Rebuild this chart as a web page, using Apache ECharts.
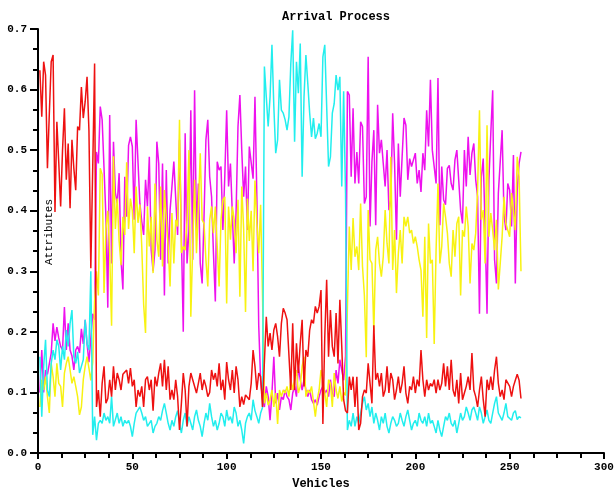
<!DOCTYPE html>
<html lang="en">
<head>
    <meta charset="UTF-8">
    <title>Arrival Process</title>
</head>
<style>
    html, body { margin: 0; padding: 0; background: #fff; }
    #main { width: 614px; height: 490px; }
</style>
<body>
<div id="main"></div>
<script type="text/javascript" src="https://cdn.jsdelivr.net/npm/echarts@6/dist/echarts.min.js"></script>
<script>
    // values, one per vehicle (1..256)
    var redVals = [
        0.632, 0.555, 0.646, 0.624, 0.47, 0.56, 0.646, 0.657, 0.398, 0.547,
        0.48, 0.407, 0.50, 0.569, 0.451, 0.511, 0.404, 0.517, 0.47, 0.434,
        0.539, 0.533, 0.604, 0.553, 0.58, 0.621, 0.533, 0.305, 0.47, 0.643,
        0.076, 0.104, 0.06, 0.115, 0.143, 0.082, 0.09, 0.121, 0.093, 0.143,
        0.104, 0.132, 0.121, 0.104, 0.13, 0.132, 0.137, 0.115, 0.14, 0.110,
        0.121, 0.076, 0.104, 0.093, 0.110, 0.076, 0.121, 0.126, 0.104, 0.121,
        0.07, 0.126, 0.110, 0.132, 0.148, 0.110, 0.154, 0.104, 0.143, 0.088,
        0.104, 0.088, 0.121, 0.093, 0.038, 0.082, 0.132, 0.104, 0.044, 0.110,
        0.132, 0.121, 0.12, 0.099, 0.115, 0.132, 0.104, 0.121, 0.110, 0.093,
        0.10, 0.137, 0.121, 0.132, 0.110, 0.148, 0.104, 0.121, 0.088, 0.15,
        0.121, 0.104, 0.137, 0.099, 0.143, 0.121, 0.076, 0.093, 0.08, 0.096,
        0.093, 0.088, 0.115, 0.170, 0.143, 0.104, 0.132, 0.126, 0.076,
        0.076, 0.225, 0.176, 0.198, 0.170, 0.203, 0.214, 0.192, 0.159, 0.214,
        0.239, 0.231, 0.220, 0.220, 0.104, 0.214, 0.104, 0.181, 0.132, 0.181,
        0.220, 0.110, 0.170, 0.159, 0.203, 0.220, 0.214, 0.242, 0.231, 0.242,
        0.269, 0.048, 0.192, 0.286, 0.159, 0.236, 0.176, 0.159, 0.231, 0.148,
        0.253, 0.176, 0.088, 0.07,
        0.066, 0.126, 0.104, 0.126, 0.076, 0.126, 0.038, 0.049, 0.093, 0.104,
        0.099, 0.148, 0.115, 0.082, 0.211, 0.121, 0.132, 0.110, 0.132, 0.093,
        0.104, 0.143, 0.099, 0.132, 0.121, 0.088, 0.104, 0.126, 0.099, 0.115,
        0.143, 0.099, 0.082, 0.110, 0.104, 0.126, 0.099, 0.121, 0.110, 0.170,
        0.121, 0.093, 0.121, 0.104, 0.115, 0.110, 0.121, 0.099, 0.121, 0.104,
        0.115, 0.148, 0.110, 0.143, 0.104, 0.154, 0.104, 0.093, 0.121, 0.082,
        0.132, 0.088, 0.099, 0.110, 0.126, 0.104, 0.165, 0.104, 0.093, 0.076,
        0.104, 0.126, 0.088, 0.060, 0.121, 0.104, 0.126, 0.104, 0.137, 0.159,
        0.115, 0.093, 0.104, 0.088, 0.121, 0.121, 0.110, 0.093, 0.11, 0.12,
        0.13, 0.12, 0.09
    ];
    var magentaVals = [
        0.10, 0.17, 0.10, 0.137, 0.13, 0.13, 0.165, 0.214, 0.185, 0.208,
        0.19, 0.176, 0.17, 0.241, 0.17, 0.214, 0.17, 0.16, 0.137, 0.17,
        0.176, 0.165, 0.205, 0.18, 0.22, 0.18, 0.15, 0.19, 0.23, 0.22,
        0.497, 0.478, 0.572, 0.550, 0.549, 0.390, 0.24, 0.558, 0.313, 0.514,
        0.43, 0.412, 0.462, 0.319, 0.27, 0.456, 0.390, 0.508, 0.522, 0.506,
        0.385, 0.550, 0.553, 0.412, 0.382, 0.36, 0.451, 0.407, 0.489, 0.335,
        0.30, 0.335, 0.514, 0.478, 0.319, 0.478, 0.26, 0.467, 0.313, 0.401,
        0.44, 0.481, 0.42, 0.36, 0.517, 0.517, 0.20, 0.528, 0.313, 0.368,
        0.566, 0.319, 0.599, 0.368, 0.445, 0.313, 0.28, 0.390, 0.517, 0.550,
        0.456, 0.423, 0.33, 0.25, 0.481, 0.467, 0.473, 0.368, 0.456, 0.566,
        0.44, 0.478, 0.475, 0.313, 0.398, 0.539, 0.591, 0.50, 0.423, 0.473,
        0.368, 0.506, 0.506, 0.453, 0.588, 0.423, 0.21, 0.12, 0.09,
        0.076, 0.110, 0.093, 0.054, 0.099, 0.159, 0.082, 0.099, 0.071, 0.093,
        0.088, 0.104, 0.093, 0.088, 0.071, 0.099, 0.110, 0.093, 0.143, 0.121,
        0.104, 0.121, 0.104, 0.093, 0.104, 0.088, 0.082, 0.088, 0.079, 0.093,
        0.104, 0.110, 0.099, 0.104, 0.093, 0.121, 0.099, 0.093, 0.137, 0.115,
        0.154, 0.137, 0.12, 0.16,
        0.597, 0.591, 0.456, 0.569, 0.445, 0.497, 0.445, 0.547, 0.539, 0.412,
        0.423, 0.654, 0.374, 0.481, 0.533, 0.376, 0.575, 0.495, 0.517, 0.478,
        0.44, 0.50, 0.401, 0.418, 0.561, 0.478, 0.352, 0.511, 0.423, 0.489,
        0.553, 0.541, 0.451, 0.486, 0.473, 0.484, 0.495, 0.445, 0.467, 0.431,
        0.495, 0.467, 0.566, 0.506, 0.616, 0.500, 0.500, 0.445, 0.619, 0.376,
        0.473, 0.418, 0.41, 0.47, 0.475, 0.445, 0.434, 0.484, 0.500, 0.500,
        0.401, 0.379, 0.500, 0.440, 0.522, 0.459, 0.495, 0.511, 0.451, 0.423,
        0.23, 0.456, 0.486, 0.368, 0.23, 0.451, 0.528, 0.599, 0.319, 0.28,
        0.429, 0.481, 0.533, 0.393, 0.368, 0.445, 0.434, 0.374, 0.492, 0.28,
        0.434, 0.478, 0.497
    ];
    var yellowVals = [
        0.076, 0.121, 0.104, 0.126, 0.093, 0.066, 0.148, 0.126, 0.093, 0.148,
        0.115, 0.110, 0.076, 0.132, 0.148, 0.159, 0.137, 0.115, 0.126, 0.110,
        0.093, 0.063, 0.076, 0.121, 0.143, 0.159, 0.14, 0.12, 0.15, 0.25,
        0.30, 0.26, 0.47, 0.46, 0.264, 0.37, 0.40, 0.33, 0.21, 0.49,
        0.37, 0.42, 0.35, 0.31, 0.39, 0.36, 0.48, 0.37, 0.42, 0.40,
        0.33, 0.44, 0.38, 0.41, 0.341, 0.245, 0.198, 0.407, 0.341, 0.390,
        0.297, 0.445, 0.352, 0.324, 0.440, 0.308, 0.434, 0.434, 0.341, 0.275,
        0.396, 0.313, 0.385, 0.374, 0.550, 0.330, 0.341, 0.335, 0.385, 0.500,
        0.225, 0.341, 0.451, 0.330, 0.407, 0.495, 0.385, 0.379, 0.319, 0.275,
        0.385, 0.407, 0.363, 0.407, 0.407, 0.275, 0.385, 0.418, 0.423, 0.247,
        0.407, 0.352, 0.407, 0.385, 0.330, 0.418, 0.258, 0.440, 0.37, 0.233,
        0.42, 0.35, 0.40, 0.30, 0.45, 0.38, 0.33, 0.41, 0.26,
        0.082, 0.099, 0.079, 0.088, 0.104, 0.076, 0.099, 0.048, 0.104, 0.093,
        0.104, 0.099, 0.110, 0.093, 0.121, 0.104, 0.121, 0.137, 0.099, 0.110,
        0.143, 0.159, 0.093, 0.104, 0.099, 0.110, 0.110, 0.060, 0.088, 0.104,
        0.137, 0.121, 0.099, 0.076, 0.121, 0.115, 0.076, 0.132, 0.104, 0.090,
        0.110, 0.085, 0.100, 0.095,
        0.24, 0.374, 0.302, 0.388, 0.324, 0.341, 0.302, 0.412, 0.308, 0.26,
        0.158, 0.401, 0.319, 0.313, 0.20, 0.335, 0.357, 0.313, 0.291, 0.324,
        0.401, 0.346, 0.313, 0.489, 0.302, 0.368, 0.264, 0.330, 0.368, 0.313,
        0.390, 0.374, 0.390, 0.363, 0.368, 0.346, 0.357, 0.341, 0.319, 0.302,
        0.225, 0.357, 0.19, 0.379, 0.313, 0.319, 0.18, 0.335, 0.445, 0.313,
        0.341, 0.412, 0.390, 0.363, 0.313, 0.291, 0.368, 0.324, 0.379, 0.390,
        0.26, 0.368, 0.357, 0.407, 0.374, 0.28, 0.346, 0.335, 0.363, 0.434,
        0.566, 0.385, 0.401, 0.313, 0.541, 0.357, 0.396, 0.368, 0.335, 0.385,
        0.27, 0.313, 0.357, 0.423, 0.379, 0.368, 0.357, 0.429, 0.401, 0.368,
        0.489, 0.456, 0.30
    ];
    var cyanVals = [
        0.159, 0.06, 0.143, 0.187, 0.104, 0.093, 0.148, 0.170, 0.154, 0.187,
        0.176, 0.137, 0.176, 0.154, 0.203, 0.176, 0.214, 0.236, 0.159, 0.148,
        0.167, 0.132, 0.143, 0.154, 0.220, 0.18, 0.17, 0.30, 0.03, 0.06,
        0.021, 0.049, 0.054, 0.049, 0.066, 0.054, 0.060, 0.049, 0.093, 0.044,
        0.044, 0.066, 0.049, 0.060, 0.044, 0.054, 0.049, 0.054, 0.044, 0.027,
        0.049, 0.066, 0.066, 0.076, 0.066, 0.054, 0.060, 0.044, 0.049, 0.054,
        0.033, 0.044, 0.049, 0.060, 0.054, 0.070, 0.082, 0.066, 0.049, 0.038,
        0.054, 0.044, 0.060, 0.070, 0.049, 0.033, 0.054, 0.066, 0.044, 0.060,
        0.049, 0.038, 0.060, 0.071, 0.054, 0.044, 0.027, 0.049, 0.066, 0.054,
        0.082, 0.060, 0.044, 0.054, 0.038, 0.049, 0.066, 0.060, 0.044, 0.071,
        0.054, 0.060, 0.049, 0.076, 0.066, 0.044, 0.054, 0.038, 0.016, 0.049,
        0.060, 0.066, 0.054, 0.088, 0.070, 0.060, 0.049, 0.066, 0.075,
        0.638, 0.588, 0.539, 0.588, 0.674, 0.572, 0.495, 0.517, 0.616, 0.566,
        0.561, 0.550, 0.533, 0.555, 0.643, 0.698, 0.514, 0.646, 0.594, 0.676,
        0.456, 0.588, 0.657, 0.610, 0.561, 0.522, 0.553, 0.519, 0.528, 0.544,
        0.522, 0.654, 0.674, 0.671, 0.473, 0.489, 0.561, 0.577, 0.624, 0.599,
        0.621, 0.440, 0.597, 0.43,
        0.038, 0.054, 0.044, 0.066, 0.044, 0.060, 0.049, 0.066, 0.082, 0.093,
        0.071, 0.082, 0.060, 0.076, 0.049, 0.066, 0.054, 0.038, 0.060, 0.049,
        0.066, 0.044, 0.033, 0.049, 0.060, 0.054, 0.044, 0.049, 0.066, 0.054,
        0.044, 0.060, 0.071, 0.054, 0.038, 0.049, 0.054, 0.044, 0.066, 0.054,
        0.049, 0.060, 0.044, 0.066, 0.049, 0.054, 0.044, 0.033, 0.054, 0.038,
        0.027, 0.044, 0.060, 0.054, 0.066, 0.049, 0.044, 0.054, 0.033, 0.049,
        0.066, 0.054, 0.060, 0.076, 0.066, 0.054, 0.071, 0.076, 0.066, 0.054,
        0.076, 0.066, 0.049, 0.060, 0.071, 0.054, 0.049, 0.066, 0.082, 0.093,
        0.066, 0.060, 0.054, 0.066, 0.082, 0.060, 0.060, 0.054, 0.066, 0.070,
        0.055, 0.060, 0.058
    ];
    var xTicks = [0, 50, 100, 150, 200, 250, 300];
    var yTicks = [0.0, 0.1, 0.2, 0.3, 0.4, 0.5, 0.6, 0.7];

    var myChart = echarts.init(document.getElementById('main'));
    var monoFont = '"Liberation Mono", "DejaVu Sans Mono", monospace';

    function toPoints(vals) {
        // vehicle number starts at 1
        return vals.map(function (v, i) { return [i + 1, v]; });
    }

    function lineSeries(name, vals, color) {
        return {
            name: name,
            type: 'line',
            data: toPoints(vals),
            showSymbol: false,
            symbol: 'none',
            lineStyle: { color: color, width: 1.5 },
            itemStyle: { color: color }
        };
    }

    var option = {
        animation: false,
        backgroundColor: '#fff',
        title: {
            text: 'Arrival Process',
            left: 277,
            top: 6,
            textStyle: { fontFamily: monoFont, fontWeight: 'bold', fontSize: 12, color: '#000' }
        },
        grid: { left: 38, right: 10, top: 29, bottom: 37, containLabel: false, outerBoundsMode: 'none' },
        // y axis title sits inside the plot, next to the axis
        graphic: [{
            type: 'text',
            x: 49,
            y: 232,
            rotation: Math.PI / 2,
            z: 100,
            style: {
                text: 'Attributes',
                fill: '#000',
                font: '11px ' + monoFont,
                align: 'center',
                verticalAlign: 'middle'
            }
        }],
        xAxis: {
            type: 'value',
            min: xTicks[0],
            max: xTicks[xTicks.length - 1],
            interval: 50,
            name: 'Vehicles',
            nameLocation: 'middle',
            nameGap: 24,
            nameTextStyle: { fontFamily: monoFont, fontWeight: 'bold', fontSize: 12, color: '#000' },
            axisLine: { show: true, lineStyle: { color: '#000', width: 2 } },
            axisTick: { show: true, length: 6, lineStyle: { color: '#000', width: 2 } },
            minorTick: { show: true, splitNumber: 4, length: 5, lineStyle: { color: '#000', width: 2 } },
            axisLabel: { margin: 9, fontFamily: monoFont, fontWeight: 'bold', fontSize: 11, color: '#000' },
            splitLine: { show: false }
        },
        yAxis: {
            type: 'value',
            min: yTicks[0],
            max: yTicks[yTicks.length - 1],
            interval: 0.1,
            axisLine: { show: true, lineStyle: { color: '#000', width: 2 } },
            axisTick: { show: true, length: 8, lineStyle: { color: '#000', width: 2 } },
            minorTick: { show: true, splitNumber: 3, length: 5, lineStyle: { color: '#000', width: 2 } },
            axisLabel: {
                margin: 11,
                fontFamily: monoFont, fontWeight: 'bold', fontSize: 11, color: '#000',
                formatter: function (v) { return v.toFixed(1); }
            },
            splitLine: { show: false }
        },
        series: [
            lineSeries('Magenta', magentaVals, '#ee11ee'),
            lineSeries('Yellow', yellowVals, '#f8f212'),
            lineSeries('Cyan', cyanVals, '#22eeee'),
            lineSeries('Red', redVals, '#ee1111')
        ]
    };

    myChart.setOption(option);
</script>
</body>
</html>
